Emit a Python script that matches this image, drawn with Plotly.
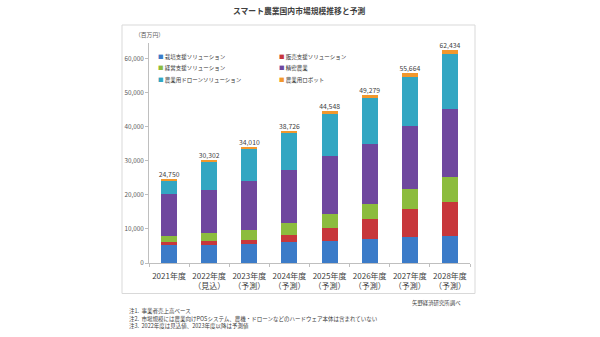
import plotly.graph_objects as go

# Fiscal years (x categories) and their sub-labels
years = ["2021年度", "2022年度<br>（見込）", "2023年度<br>（予測）", "2024年度<br>（予測）",
         "2025年度<br>（予測）", "2026年度<br>（予測）", "2027年度<br>（予測）", "2028年度<br>（予測）"]

# Segment values, million yen (stacked bottom to top)
cultivation = [5280, 5280, 5660, 6040, 6500, 7040, 7625, 8000]        # 栽培支援ソリューション
sales = [760, 1170, 970, 2170, 3900, 5750, 8210, 9980]                # 販売支援ソリューション
management = [1880, 2350, 3140, 3520, 4020, 4550, 5750, 7120]         # 経営支援ソリューション
precision = [12360, 12490, 14130, 15630, 16840, 17560, 18475, 20060]  # 精密農業
drone = [3870, 8462, 9460, 10616, 12438, 13429, 14604, 16074]         # 農業用ドローンソリューション
robot = [600, 550, 650, 750, 850, 950, 1000, 1200]                    # 農業用ロボット

totals = [24750, 30302, 34010, 38726, 44548, 49279, 55664, 62434]

series_names = ["栽培支援ソリューション", "販売支援ソリューション", "経営支援ソリューション",
                "精密農業", "農業用ドローンソリューション", "農業用ロボット"]
series_values = [cultivation, sales, management, precision, drone, robot]
series_colors = ["#3b7bc8", "#c7373b", "#8cbc3e", "#6f479e", "#33a6c2", "#f2982c"]

y_ticks = [0, 10000, 20000, 30000, 40000, 50000, 60000]

FONT = "Noto Sans CJK JP, Noto Sans, sans-serif"
W, H = 600, 337
ML, MR, MT, MB = 149, 130, 43, 74
PW, PH = W - ML - MR, H - MT - MB


def px_x(p):
    return (p - ML) / PW


def px_y(p):
    return (H - MB - p) / PH


fig = go.Figure()

for name, vals, color in zip(series_names, series_values, series_colors):
    fig.add_trace(go.Bar(
        x=years, y=vals, name=name,
        marker=dict(color=color, line=dict(width=0)),
        width=0.4, showlegend=False,
        hovertemplate="%{x}<br>" + name + ": %{y:,}<extra></extra>",
    ))

# Total labels above each stack
fig.add_trace(go.Scatter(
    x=years, y=totals, mode="text",
    text=[f"{t:,}" for t in totals],
    textposition="top center",
    textfont=dict(family=FONT, size=6.8, color="#404040"),
    cliponaxis=False, showlegend=False, hoverinfo="skip",
))

annotations = []

# Two-column legend drawn as colored squares with labels
legend_cols = [155.5, 276.5]
legend_rows = [57, 68.3, 79.7]
for i, (name, color) in enumerate(zip(series_names, series_colors)):
    col, row = i % 2, i // 2
    annotations.append(dict(
        x=px_x(legend_cols[col]), y=px_y(legend_rows[row]), xref="paper", yref="paper",
        xanchor="left", yanchor="middle", showarrow=False,
        text=f"<span style='color:{color}'>■</span> {name}",
        font=dict(family=FONT, size=5.5, color="#333333"),
    ))

# Title
annotations.append(dict(
    x=px_x(299), y=px_y(11), xref="paper", yref="paper", xanchor="center", yanchor="middle",
    showarrow=False, text="<b>スマート農業国内市場規模推移と予測</b>",
    font=dict(family=FONT, size=7.8, color="#404040"),
))
# Unit
annotations.append(dict(
    x=px_x(149), y=px_y(34.5), xref="paper", yref="paper", xanchor="center", yanchor="middle",
    showarrow=False, text="（百万円）",
    font=dict(family=FONT, size=5.8, color="#595959"),
))
# Source
annotations.append(dict(
    x=px_x(462.5), y=px_y(302.5), xref="paper", yref="paper", xanchor="right", yanchor="middle",
    showarrow=False, text="矢野経済研究所調べ",
    font=dict(family=FONT, size=5.4, color="#404040"),
))
# Notes
notes = ["注1.  事業者売上高ベース",
         "注2.  市場規模には農業向けPOSシステム、農機・ドローンなどのハードウェア本体は含まれていない",
         "注3.  2022年度は見込値、2023年度以降は予測値"]
for note, ny in zip(notes, [311.3, 318.6, 325.6]):
    annotations.append(dict(
        x=px_x(126.5), y=px_y(ny), xref="paper", yref="paper", xanchor="left", yanchor="middle",
        showarrow=False, text=note,
        font=dict(family=FONT, size=5.5, color="#404040"),
    ))

fig.update_layout(
    width=W, height=H,
    margin=dict(l=ML, r=MR, t=MT, b=MB, pad=0),
    paper_bgcolor="white", plot_bgcolor="white",
    barmode="stack", bargap=0.6,
    font=dict(family=FONT, color="#595959"),
    annotations=annotations,
    shapes=[dict(
        type="rect", xref="paper", yref="paper",
        x0=px_x(122), x1=px_x(475), y0=px_y(293.5), y1=px_y(25),
        line=dict(color="#d9d9d9", width=1), fillcolor="rgba(0,0,0,0)", layer="below",
    )],
)

fig.update_xaxes(
    range=[-0.5, 7.5], showline=True, linecolor="#bfbfbf", linewidth=1,
    ticks="outside", tickson="boundaries", ticklen=3, tickcolor="#bfbfbf",
    tickangle=0, ticklabelstandoff=5,
    tickfont=dict(family=FONT, size=8, color="#404040"),
    showgrid=False, zeroline=False,
)
fig.update_yaxes(
    range=[0, 64500], tickvals=y_ticks, tickformat=",",
    showline=True, linecolor="#bfbfbf", linewidth=1,
    ticks="outside", ticklen=3, tickcolor="#bfbfbf",
    tickfont=dict(family=FONT, size=6.3, color="#595959"),
    showgrid=False, zeroline=False,
)

fig.write_html("out.html")
